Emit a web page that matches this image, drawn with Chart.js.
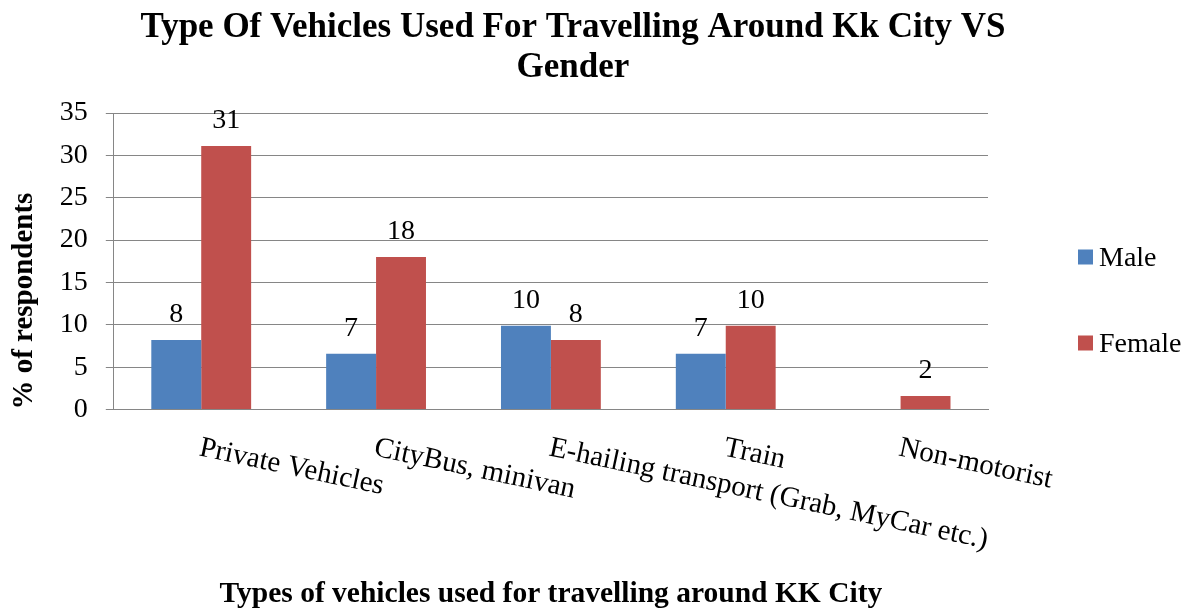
<!DOCTYPE html>
<html>
<head>
<meta charset="utf-8">
<title>Type Of Vehicles Used For Travelling Around Kk City VS Gender</title>
<script src="https://cdn.jsdelivr.net/npm/chart.js@4.4.1/dist/chart.umd.min.js"></script>
<style>
  html, body { margin: 0; padding: 0; background: #ffffff; }
  #wrap { width: 1190px; height: 612px; position: relative; }
</style>
</head>
<body>
<div id="wrap"><canvas id="vehicle-chart"></canvas></div>
<script>
// Data
const categories = [
  "Private Vehicles",
  "CityBus, minivan",
  "E-hailing transport (Grab, MyCar etc.)",
  "Train",
  "Non-motorist",
];
const seriesNames = ["Male", "Female"];
const maleValues = [8.2, 6.6, 9.9, 6.6, null];
const femaleValues = [31.1, 18.0, 8.2, 9.9, 1.6];
const yMin = 0;
const yMax = 35;
const yStep = 5;

const chartTitle = ["Type Of Vehicles Used For Travelling Around Kk City VS", "Gender"];
const xAxisTitle = "Types of vehicles used for travelling around KK City";
const yAxisTitle = "% of respondents";

const colors = ["#4F81BD", "#C0504D"];
const gridColor = "#868686";
const SERIF = "'Liberation Serif', 'Times New Roman', serif";

// Title drawn by hand so it can sit off-centre like the original
const titlePlugin = {
  id: "customTitle",
  afterDraw(chart) {
    const { ctx, chartArea } = chart;
    const cx = (chartArea.left + chartArea.right) / 2 + 22;
    ctx.save();
    ctx.fillStyle = "#000";
    ctx.font = "bold 35px " + SERIF;
    ctx.textAlign = "center";
    ctx.textBaseline = "alphabetic";
    ctx.fillText(chartTitle[0], cx, 37);
    ctx.fillText(chartTitle[1], cx, 77);
    ctx.restore();
  },
};

// Category labels slanting down to the right, starting at each category centre
const categoryLabelPlugin = {
  id: "categoryLabels",
  afterDraw(chart) {
    const { ctx, chartArea } = chart;
    const xScale = chart.scales.x;
    ctx.save();
    ctx.fillStyle = "#000";
    ctx.font = "29px " + SERIF;
    ctx.textAlign = "left";
    ctx.textBaseline = "alphabetic";
    categories.forEach((label, i) => {
      ctx.save();
      ctx.translate(xScale.getPixelForValue(i) + 1, chartArea.bottom + 27);
      ctx.rotate((12 * Math.PI) / 180);
      ctx.fillText(label, 0, 19);
      ctx.restore();
    });
    ctx.restore();
  },
};

// Value labels above the bars
const valueLabelPlugin = {
  id: "valueLabels",
  afterDatasetsDraw(chart) {
    const { ctx } = chart;
    ctx.save();
    ctx.fillStyle = "#000";
    ctx.font = "28px " + SERIF;
    ctx.textAlign = "center";
    ctx.textBaseline = "alphabetic";
    chart.data.datasets.forEach((ds, di) => {
      const meta = chart.getDatasetMeta(di);
      meta.data.forEach((bar, i) => {
        const v = ds.data[i];
        if (v === null || v === undefined) return;
        ctx.fillText(String(Math.round(v)), bar.x, bar.y - 18);
      });
    });
    ctx.restore();
  },
};

// Legend on the right, spaced out like the original
const legendPlugin = {
  id: "sideLegend",
  afterDraw(chart) {
    const { ctx, chartArea } = chart;
    const boxX = chartArea.right + 90;
    ctx.save();
    ctx.font = "28px " + SERIF;
    ctx.textAlign = "left";
    ctx.textBaseline = "alphabetic";
    chart.data.datasets.forEach((ds, i) => {
      const cy = chartArea.top + 144 + i * 86;
      ctx.fillStyle = ds.backgroundColor;
      ctx.fillRect(boxX, cy - 7.5, 15, 15);
      ctx.fillStyle = "#000";
      ctx.fillText(ds.label, boxX + 21, cy + 9);
    });
    ctx.restore();
  },
};

const ctx = document.getElementById("vehicle-chart");

new Chart(ctx, {
  type: "bar",
  data: {
    labels: categories,
    datasets: [
      {
        label: seriesNames[0],
        data: maleValues,
        backgroundColor: colors[0],
        categoryPercentage: 0.571,
        barPercentage: 1.0,
      },
      {
        label: seriesNames[1],
        data: femaleValues,
        backgroundColor: colors[1],
        categoryPercentage: 0.571,
        barPercentage: 1.0,
      },
    ],
  },
  plugins: [titlePlugin, categoryLabelPlugin, valueLabelPlugin, legendPlugin],
  options: {
    responsive: true,
    maintainAspectRatio: false,
    animation: false,
    layout: {
      padding: { top: 113, left: 0, right: 202, bottom: 0 },
    },
    plugins: {
      legend: { display: false },
      title: { display: false },
      tooltip: { enabled: false },
    },
    scales: {
      x: {
        ticks: { display: false },
        grid: { display: false, drawTicks: false },
        border: { color: gridColor, width: 1 },
        title: {
          display: true,
          text: xAxisTitle,
          color: "#000",
          font: { family: SERIF, size: 29.5, weight: "bold" },
          padding: { top: 167, bottom: 0 },
        },
      },
      y: {
        min: yMin,
        max: yMax,
        ticks: {
          stepSize: yStep,
          color: "#000",
          padding: 18,
          font: { family: SERIF, size: 28 },
        },
        grid: {
          color: gridColor,
          tickColor: gridColor,
          tickLength: 8,
          drawTicks: true,
        },
        border: { color: gridColor, width: 1 },
        title: {
          display: true,
          text: yAxisTitle,
          align: "start",
          color: "#000",
          font: { family: SERIF, size: 29, weight: "bold" },
          padding: { top: 7, bottom: 0 },
        },
      },
    },
  },
});
</script>
</body>
</html>
